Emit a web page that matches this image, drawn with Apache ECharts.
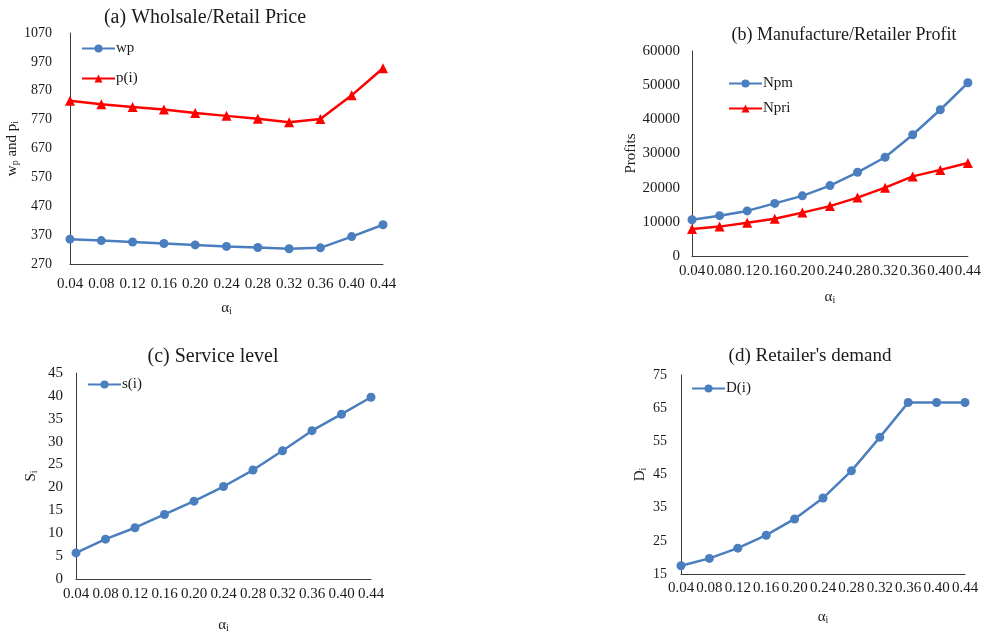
<!DOCTYPE html>
<html>
<head>
<meta charset="utf-8">
<script src="https://cdn.jsdelivr.net/npm/echarts@6/dist/echarts.min.js"></script>
<style>
  html, body { margin: 0; padding: 0; background: #fff; }
  #chart { width: 984px; height: 634px; }
</style>
</head>
<body>
<div id="chart"></div>
<script>
// Alpha levels shared by all four panels
const alphas = ['0.04', '0.08', '0.12', '0.16', '0.20', '0.24', '0.28', '0.32', '0.36', '0.40', '0.44'];

// (a) wholesale and retail price
const wpValues = [356, 351, 346, 341, 336, 331, 327, 323, 326, 365, 406];
const pValues = [835, 823, 814, 805, 793, 783, 773, 761, 772, 854, 948];

// (b) manufacturer and retailer profit
const npmValues = [10600, 11800, 13200, 15400, 17600, 20600, 24500, 28900, 35500, 42800, 50700];
const npriValues = [7900, 8600, 9700, 10900, 12700, 14600, 17100, 20000, 23300, 25200, 27200];

// (c) service level
const serviceValues = [5.7, 8.7, 11.2, 14.1, 17.0, 20.2, 23.8, 28.0, 32.4, 36.0, 39.7];

// (d) retailer demand
const demandValues = [17.5, 19.7, 22.8, 26.7, 31.6, 37.9, 46.1, 56.2, 66.7, 66.7, 66.7];

const FONT = '"Liberation Serif", "Times New Roman", serif';
const BLUE = '#4a7ebf';
const RED = '#ff0000';
const INK = '#1a1a1a';

const rich = {
  n: { fontFamily: FONT, fontSize: 15, color: INK },
  s: { fontFamily: FONT, fontSize: 10, color: INK, verticalAlign: 'bottom', padding: [6, 0, 0, 0] }
};

function xAxis(gridIndex, labelMargin, nameGap) {
  return {
    type: 'category',
    gridIndex,
    data: alphas,
    boundaryGap: false,
    name: '{n|α}{s|i}',
    nameLocation: 'middle',
    nameGap,
    nameTextStyle: { rich },
    axisLine: { lineStyle: { color: '#3a3a3a', width: 1 } },
    axisTick: { show: false },
    axisLabel: { interval: 0, margin: labelMargin, fontFamily: FONT, fontSize: 15, color: INK },
    splitLine: { show: false }
  };
}

function yAxis(gridIndex, min, max, interval, name, nameGap, labelMargin, fontSize) {
  return {
    type: 'value',
    gridIndex,
    min, max, interval,
    name,
    nameLocation: 'middle',
    nameGap,
    nameTextStyle: { rich },
    axisLine: { show: true, lineStyle: { color: '#3a3a3a', width: 1 } },
    axisTick: { show: false },
    axisLabel: {
      margin: labelMargin,
      fontFamily: FONT,
      fontSize,
      color: INK,
      formatter: (v) => String(v)
    },
    splitLine: { show: false }
  };
}

function lineSeries(name, data, idx, color, symbol, size) {
  return {
    name,
    type: 'line',
    xAxisIndex: idx,
    yAxisIndex: idx,
    data,
    symbol,
    symbolSize: size,
    showAllSymbol: true,
    lineStyle: { color, width: 2.5 },
    itemStyle: { color },
    animation: false
  };
}

function legend(names, left, top, gap) {
  return {
    data: names,
    orient: 'vertical',
    left, top,
    itemWidth: 33,
    itemHeight: 10,
    itemGap: gap,
    textStyle: { fontFamily: FONT, fontSize: 15, color: INK, padding: [0, 0, 0, -4] }
  };
}

function title(text, x, y, size) {
  return {
    text,
    left: x,
    top: y,
    textAlign: 'center',
    textStyle: { fontFamily: FONT, fontSize: size, fontWeight: 'normal', color: INK }
  };
}

const chart = echarts.init(document.getElementById('chart'), null, { renderer: 'canvas' });

chart.setOption({
  backgroundColor: '#ffffff',
  animation: false,
  title: [
    title('(a) Wholsale/Retail Price', 200, 3, 20),
    title('(b) Manufacture/Retailer Profit', 839, 21, 18),
    title('(c) Service level', 208, 342, 20),
    title("(d) Retailer's demand", 805, 342, 19)
  ],
  legend: [
    legend(['wp', 'p(i)'], 76, 36, 15),
    legend(['Npm', 'Npri'], 723, 71, 10),
    legend(['s(i)'], 82, 372, 10),
    legend(['D(i)'], 686, 376, 10)
  ],
  grid: [
    { left: 70, right: 601, top: 33, bottom: 370 },
    { left: 692, right: 13, top: 51, bottom: 378 },
    { left: 76, right: 613, top: 373, bottom: 52 },
    { left: 681, right: 19, top: 375, bottom: 60 }
  ],
  xAxis: [
    xAxis(0, 13, 36),
    xAxis(1, 8, 33),
    xAxis(2, 8, 38),
    xAxis(3, 7, 35)
  ],
  yAxis: [
    yAxis(0, 270, 1070, 100, '{n|w}{s|p}{n| and p}{s|i}', 40, 18, 14),
    yAxis(1, 0, 60000, 10000, '{n|Profits}', 46, 12, 15),
    yAxis(2, 0, 45, 5, '{n|S}{s|i}', 37, 13, 15),
    yAxis(3, 15, 75, 10, '{n|D}{s|i}', 33, 14, 14)
  ],
  series: [
    lineSeries('wp', wpValues, 0, BLUE, 'circle', 9),
    lineSeries('p(i)', pValues, 0, RED, 'triangle', 10),
    lineSeries('Npm', npmValues, 1, BLUE, 'circle', 9),
    lineSeries('Npri', npriValues, 1, RED, 'triangle', 10),
    lineSeries('s(i)', serviceValues, 2, BLUE, 'circle', 9),
    lineSeries('D(i)', demandValues, 3, BLUE, 'circle', 9)
  ]
});
</script>
</body>
</html>
